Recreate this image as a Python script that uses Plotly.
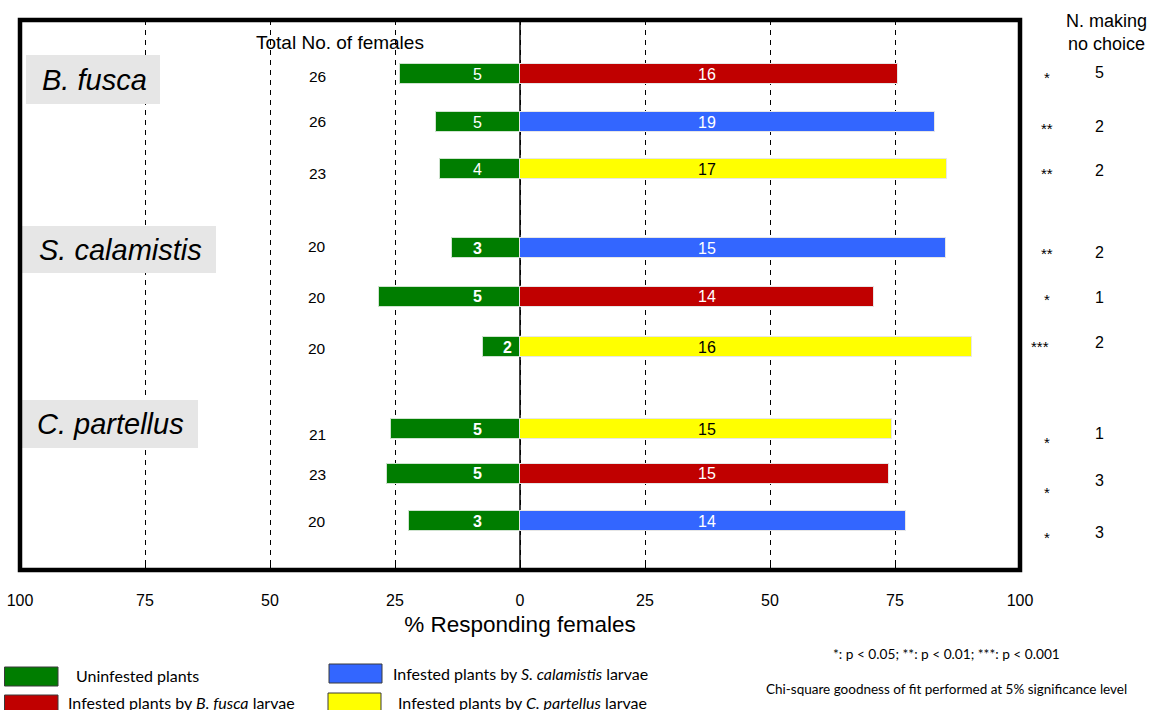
import plotly.graph_objects as go

# ---- data -------------------------------------------------------------
# one row per two-choice test, top to bottom
row_moth = ["B. fusca"] * 3 + ["S. calamistis"] * 3 + ["C. partellus"] * 3
row_infested_by = ["B. fusca", "S. calamistis", "C. partellus",
                   "S. calamistis", "B. fusca", "C. partellus",
                   "C. partellus", "B. fusca", "S. calamistis"]
total_females = [26, 26, 23, 20, 20, 20, 21, 23, 20]
n_uninfested = [5, 5, 4, 3, 5, 2, 5, 5, 3]
n_infested = [16, 19, 17, 15, 14, 16, 15, 15, 14]
n_no_choice = [5, 2, 2, 2, 1, 2, 1, 3, 3]
significance = ["*", "**", "**", "**", "*", "***", "*", "*", "*"]
pct_uninfested = [24.0, 16.8, 16.0, 13.6, 28.2, 7.4, 25.8, 26.6, 22.2]
pct_infested = [75.6, 83.0, 85.4, 85.2, 70.8, 90.4, 74.4, 73.8, 77.2]
tick_values = [-100, -75, -50, -25, 0, 25, 50, 75, 100]
tick_labels = ["100", "75", "50", "25", "0", "25", "50", "75", "100"]
moth_species = ["B. fusca", "S. calamistis", "C. partellus"]

# ---- layout constants ---------------------------------------------------
W, H = 1150, 710
L, R, T, B = 20, 130, 20, 140
PW, PH = W - L - R, H - T - B
ROW_Y = [74, 122, 169, 248, 296.5, 347, 429, 473.5, 521]
TOTAL_Y = [76, 122, 173, 246, 297, 348, 434, 474, 521]      # side-column text rows
STAR_Y = [76, 127, 172, 253, 299, 345, 441, 491, 536]
NOCHOICE_Y = [73, 126, 170, 253, 297, 342, 433, 480, 532]
BAR_W = 20
FONT = "Liberation Sans, Arial, sans-serif"
NOTE_FONT = "Lato, Carlito, sans-serif"
GREEN, RED, BLUE, YELLOW = "#007d00", "#c00000", "#3366ff", "#ffff00"
host_colour = {"B. fusca": RED, "S. calamistis": BLUE, "C. partellus": YELLOW}
host_text = {"B. fusca": "white", "S. calamistis": "white", "C. partellus": "black"}


def px(x):
    return (x - L) / PW


def py(y):
    return (T + PH - y) / PH


def label(x, y, text, size, family=FONT, color="black", xanchor="center", **kw):
    """Text placed by page position (pixels from the top-left corner)."""
    return dict(x=px(x), y=py(y), xref="paper", yref="paper", text=text,
                showarrow=False, xanchor=xanchor, yanchor="middle",
                font=dict(family=family, size=size, color=color), **kw)


fig = go.Figure()

fig.add_trace(go.Bar(
    x=[-v for v in pct_uninfested], y=ROW_Y, orientation="h", width=BAR_W,
    marker=dict(color=GREEN, line=dict(color="#cfe3cf", width=1)),
    name="Uninfested plants", showlegend=False, hoverinfo="skip"))

for host in moth_species:
    idx = [i for i, h in enumerate(row_infested_by) if h == host]
    fig.add_trace(go.Bar(
        x=[pct_infested[i] for i in idx], y=[ROW_Y[i] for i in idx],
        orientation="h", width=BAR_W,
        marker=dict(color=host_colour[host], line=dict(color="#e6e6e6", width=1)),
        name=f"Infested plants by {host} larvae", showlegend=False,
        hoverinfo="skip"))

ann = []
shapes = []

for i, y in enumerate(ROW_Y):
    # counts written on the bars
    gx = -2.6 if n_uninfested[i] == 2 else -8.6
    txt = str(n_uninfested[i]) if i < 3 else f"<b>{n_uninfested[i]}</b>"
    ann.append(dict(x=gx, y=y, xref="x", yref="y", text=txt, showarrow=False,
                    xanchor="center", yanchor="middle",
                    font=dict(family=FONT, size=16, color="white")))
    ann.append(dict(x=37.4, y=y, xref="x", yref="y", text=str(n_infested[i]),
                    showarrow=False, xanchor="center", yanchor="middle",
                    font=dict(family=FONT, size=16,
                              color=host_text[row_infested_by[i]])))
    # total number of females
    ann.append(label(317, TOTAL_Y[i], str(total_females[i]), 15.5))
    # significance and number making no choice
    star_x = 1040 if len(significance[i]) == 3 else 1047
    ann.append(label(star_x, STAR_Y[i] + 1, significance[i], 15))
    ann.append(label(1099, NOCHOICE_Y[i], str(n_no_choice[i]), 16))

# moth species label boxes
boxes = [(26, 160, 55, 104, 79), (22, 216, 226, 273, 249), (21, 198, 400, 448, 423)]
for name, (x0, x1, y0, y1, yc) in zip(moth_species, boxes):
    shapes.append(dict(type="rect", xref="paper", yref="paper",
                       x0=px(x0), x1=px(x1), y0=py(y1), y1=py(y0),
                       fillcolor="#e6e6e6", line=dict(width=0), layer="above"))
    ann.append(label((x0 + x1) / 2 + 1, yc + 1, f"<i>{name}</i>", 29))

# zero line and plot frame
shapes.append(dict(type="line", xref="x", yref="paper", x0=0, x1=0, y0=0, y1=1,
                   line=dict(color="black", width=1.5), layer="below"))
shapes.append(dict(type="rect", xref="paper", yref="paper", x0=0, x1=1, y0=0,
                   y1=1, line=dict(color="black", width=4.5), layer="above"))

# column headers
ann.append(label(340, 42, "Total No. of females", 19))
ann.append(label(1106, 32, "N. making<br>no choice", 18, align="center"))

# legend
legend_items = [
    (4.5, 58, 667, 686, GREEN, 74, 675, "Uninfested plants"),
    (4.5, 58, 695, 714, RED, 66, 703, "Infested plants by <i>B. fusca</i> larvae"),
    (329, 382, 664, 683, BLUE, 391, 673, "Infested plants by <i>S. calamistis</i> larvae"),
    (328, 381, 693, 712, YELLOW, 396, 703, "Infested plants by <i>C. partellus</i> larvae"),
]
for x0, x1, y0, y1, col, tx, ty, text in legend_items:
    shapes.append(dict(type="rect", xref="paper", yref="paper",
                       x0=px(x0), x1=px(x1), y0=py(y1), y1=py(y0),
                       fillcolor=col, line=dict(color="#3a3a3a", width=1)))
    ann.append(label(tx, ty, text, 16, family=NOTE_FONT, xanchor="left"))

ann.append(label(946, 653, "*: p < 0.05; **: p < 0.01; ***: p < 0.001", 13.7,
                 family=NOTE_FONT))
ann.append(label(946, 689, "Chi-square goodness of fit performed at 5% significance level",
                 13.5, family=NOTE_FONT))

fig.update_layout(
    template="none",
    width=W, height=H,
    margin=dict(l=L, r=R, t=T, b=B, pad=0),
    paper_bgcolor="white", plot_bgcolor="white",
    barmode="overlay", bargap=0,
    showlegend=False,
    annotations=ann, shapes=shapes,
    xaxis=dict(range=[-100, 100], tickvals=tick_values, ticktext=tick_labels,
               showgrid=True, gridcolor="black", gridwidth=1.3,
               griddash="5px,5px", zeroline=False, showline=False,
               ticks="inside", ticklen=6, tickcolor="black",
               ticklabelstandoff=19,
               tickfont=dict(family=FONT, size=16, color="black"),
               title=dict(text="% Responding females", standoff=8,
                          font=dict(family=FONT, size=22.5, color="black")),
               automargin=False, fixedrange=True),
    yaxis=dict(range=[T + PH, T], showgrid=False, zeroline=False,
               showticklabels=False, ticks="", showline=False,
               automargin=False, fixedrange=True),
)

fig.write_html("out.html")
